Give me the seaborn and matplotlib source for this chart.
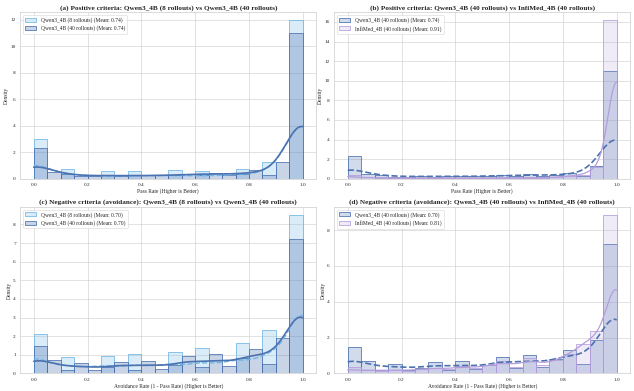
import numpy as np
import matplotlib
matplotlib.use('Agg')
import matplotlib.pyplot as plt
import seaborn as sns

# pass-rate levels a criterion can take
RATE_8 = [0.0, 0.125, 0.25, 0.375, 0.5, 0.625, 0.75, 0.875, 1.0]
RATE_40 = [0.0, 0.075, 0.125, 0.175, 0.225, 0.275, 0.325, 0.375, 0.425, 0.475,
           0.525, 0.575, 0.625, 0.675, 0.725, 0.775, 0.825, 0.875, 0.925, 1.0]

# density (one value per level above)
POS_Q8 = [2.95, 0.73, 0.55, 0.55, 0.63, 0.55, 0.76, 1.24, 11.92]
POS_Q40 = [2.32, 0.50, 0.40, 0.20, 0.20, 0.30, 0.20, 0.25, 0.25, 0.25,
           0.25, 0.38, 0.30, 0.45, 0.30, 0.35, 0.63, 0.25, 1.29, 11.06]
POS_INF = [0.35, 0.15, 0.10, 0.08, 0.08, 0.10, 0.08, 0.10, 0.08, 0.08,
           0.10, 0.12, 0.10, 0.12, 0.10, 0.15, 0.30, 0.35, 1.20, 15.90]
NEG_Q8 = [2.10, 0.90, 0.95, 1.05, 1.15, 1.35, 1.65, 2.30, 8.50]
NEG_Q40 = [1.45, 0.70, 0.18, 0.55, 0.20, 0.32, 0.62, 0.20, 0.68, 0.25,
           0.45, 0.92, 0.32, 1.02, 0.38, 0.80, 1.30, 0.52, 1.88, 7.20]
NEG_INF = [0.35, 0.22, 0.15, 0.20, 0.15, 0.25, 0.30, 0.25, 0.40, 0.30,
           0.45, 0.70, 0.35, 0.90, 0.45, 0.75, 1.10, 1.65, 2.40, 9.00]

MEANS = {'pos_q8': 0.74, 'pos_q40': 0.74, 'pos_inf': 0.91,
         'neg_q8': 0.70, 'neg_q40': 0.70, 'neg_inf': 0.81}

N_POS = 10000   # approx. number of positive criteria
N_NEG = 10500   # approx. number of negative criteria

C_Q8 = '#6FB7E6'
C_Q40 = '#4C72B0'
C_INF = '#B39DDB'


def expand(rates, dens, n):
    counts = np.round(np.array(dens) * 0.05 * n).astype(int)
    return np.repeat(rates, counts)


def draw(ax, series, title, xlabel):
    for x, color, alpha, ls, lw, label in series:
        sns.histplot(x=x, bins=20, binrange=(0, 1), stat='density', kde=True,
                     color=color, alpha=alpha, edgecolor=color, linewidth=1.4,
                     label=label, line_kws={'linestyle': ls, 'linewidth': lw},
                     ax=ax)
    ax.set_title(title, fontsize=13, fontweight='bold', pad=5)
    ax.set_xlabel(xlabel, fontsize=10, labelpad=2)
    ax.set_ylabel('Density', fontsize=10, labelpad=3)
    ax.tick_params(labelsize=9.5, pad=2)
    ax.legend(loc='upper left', fontsize=10)


sns.set_theme(style='whitegrid')
plt.rcParams['font.family'] = ['Liberation Serif', 'DejaVu Serif']

fig, axes = plt.subplots(2, 2, figsize=(15.85, 9.775), dpi=40)

pos_q8 = expand(RATE_8, POS_Q8, N_POS)
pos_q40 = expand(RATE_40, POS_Q40, N_POS)
pos_inf = expand(RATE_40, POS_INF, N_POS)
neg_q8 = expand(RATE_8, NEG_Q8, N_NEG)
neg_q40 = expand(RATE_40, NEG_Q40, N_NEG)
neg_inf = expand(RATE_40, NEG_INF, N_NEG)

lab_q8 = 'Qwen3_4B (8 rollouts) (Mean: {:.2f})'
lab_q40 = 'Qwen3_4B (40 rollouts) (Mean: {:.2f})'
lab_inf = 'InfiMed_4B (40 rollouts) (Mean: {:.2f})'

draw(axes[0, 0],
     [(pos_q8, C_Q8, 0.25, '--', 2.5, lab_q8.format(MEANS['pos_q8'])),
      (pos_q40, C_Q40, 0.3, '-', 3.0, lab_q40.format(MEANS['pos_q40']))],
     '(a) Positive criteria: Qwen3_4B (8 rollouts) vs Qwen3_4B (40 rollouts)',
     'Pass Rate (Higher is Better)')
draw(axes[0, 1],
     [(pos_q40, C_Q40, 0.25, '--', 3.0, lab_q40.format(MEANS['pos_q40'])),
      (pos_inf, C_INF, 0.2, '-', 2.2, lab_inf.format(MEANS['pos_inf']))],
     '(b) Positive criteria: Qwen3_4B (40 rollouts) vs InfiMed_4B (40 rollouts)',
     'Pass Rate (Higher is Better)')
draw(axes[1, 0],
     [(neg_q8, C_Q8, 0.25, '--', 2.5, lab_q8.format(MEANS['neg_q8'])),
      (neg_q40, C_Q40, 0.3, '-', 3.0, lab_q40.format(MEANS['neg_q40']))],
     '(c) Negative criteria (avoidance): Qwen3_4B (8 rollouts) vs Qwen3_4B (40 rollouts)',
     'Avoidance Rate (1 - Pass Rate) (Higher is Better)')
draw(axes[1, 1],
     [(neg_q40, C_Q40, 0.25, '--', 3.0, lab_q40.format(MEANS['neg_q40'])),
      (neg_inf, C_INF, 0.2, '-', 2.2, lab_inf.format(MEANS['neg_inf']))],
     '(d) Negative criteria (avoidance): Qwen3_4B (40 rollouts) vs InfiMed_4B (40 rollouts)',
     'Avoidance Rate (1 - Pass Rate) (Higher is Better)')

plt.subplots_adjust(left=0.032, right=0.994, top=0.969, bottom=0.045,
                    wspace=0.061, hspace=0.168)
plt.savefig('out.png', dpi=40)
